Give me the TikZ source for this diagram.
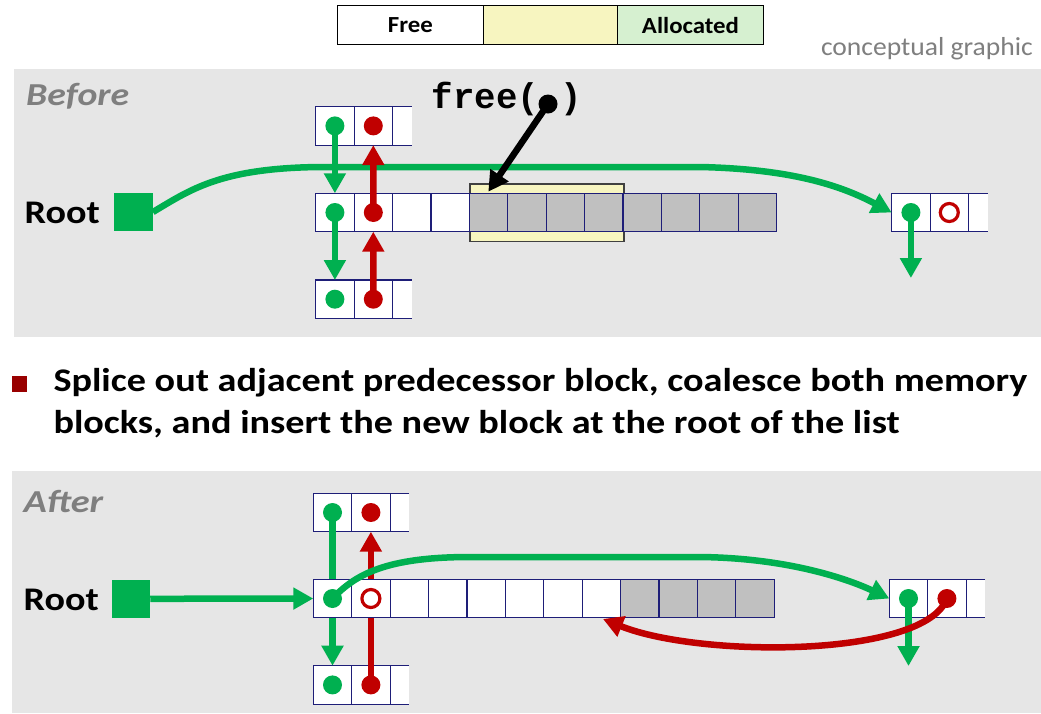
\documentclass[tikz,border=0pt]{standalone}
\usepackage{fontspec}
\setmainfont{Carlito}
\newfontfamily\monof{Liberation Mono}
\usetikzlibrary{arrows.meta}
\definecolor{panelbg}{RGB}{230,230,230}
\definecolor{dgreen}{RGB}{0,176,80}
\definecolor{dred}{RGB}{192,0,0}
\definecolor{bulletred}{RGB}{153,0,0}
\definecolor{cellgray}{RGB}{192,192,192}
\definecolor{cellblue}{RGB}{30,30,120}
\definecolor{legyellow}{RGB}{247,245,192}
\definecolor{leggreen}{RGB}{214,240,208}
\definecolor{txtgray}{RGB}{127,127,127}
\begin{document}
\begin{tikzpicture}[x=1pt,y=-1pt,
  cell/.style={draw=cellblue, line width=1.2pt, fill=white, minimum width=38.4pt, minimum height=38.4pt, inner sep=0pt, outer sep=0pt, anchor=north west},
  pcell/.style={fill=white, minimum width=19pt, minimum height=38.4pt, inner sep=0pt, outer sep=0pt, anchor=north west},
  cellline/.style={draw=cellblue, line width=1.2pt},
  gdot/.style={circle, fill=dgreen, minimum size=19pt, inner sep=0pt},
  rdot/.style={circle, fill=dred, minimum size=19pt, inner sep=0pt},
  kdot/.style={circle, fill=black, minimum size=19pt, inner sep=0pt},
  rring/.style={circle, draw=dred, line width=3.2pt, fill=white, minimum size=18pt, inner sep=0pt},
  tip/.style={-{Triangle[length=20pt,width=21pt]}},
  garrow/.style={draw=dgreen, line width=6.5pt, tip},
  rarrow/.style={draw=dred, line width=6.5pt, tip},
  karrow/.style={draw=black, line width=6.5pt, tip},
  rootsq/.style={fill=dgreen, minimum width=38.5pt, minimum height=38.5pt, inner sep=0pt},
  rootlbl/.style={font=\fontsize{33}{36}\selectfont\bfseries, anchor=base west, inner sep=0pt},
  panellbl/.style={font=\fontsize{32}{34}\selectfont\bfseries\itshape, text=txtgray, anchor=base west, inner sep=0pt},
  bullettxt/.style={font=\fontsize{33}{36}\selectfont\bfseries, anchor=base west, inner sep=0pt},
  legbox/.style={draw=black, line width=1.3pt, minimum height=39pt, inner sep=0pt, anchor=north west, font=\fontsize{23}{25}\selectfont\bfseries}
]
\useasboundingbox (0,0) rectangle (1041,713);
\fill[white] (0,0) rectangle (1041,713);

% ---------- legend ----------
\node[legbox, fill=white, minimum width=146pt] (legfree) at (336.7,5) {\scalebox{1.08}[1]{Free}};
\node[legbox, fill=legyellow, minimum width=134pt] (legyel) at (482.7,5) {};
\node[legbox, fill=leggreen, minimum width=146.3pt] (legalloc) at (616.7,5) {\scalebox{1.08}[1]{Allocated}};
\node[font=\fontsize{26}{28}\selectfont, text=txtgray, anchor=base east, inner sep=0pt] (concept) at (1033,55) {\scalebox{1.06}[1]{conceptual graphic}};

% ---------- BEFORE panel ----------
\fill[panelbg] (14,69) rectangle (1041,337);
\node[panellbl] (beforelbl) at (26,105.7) {\scalebox{1.18}[1]{Before}};
\node[rootlbl] (rootBtxt) at (24.5,223.3) {\scalebox{1.156}[1]{Root}};
\node[rootsq] (rootB) at (133.5,212) {};

% highlight
\node[draw=black!75, line width=1.3pt, fill=legyellow, minimum width=154pt, minimum height=57.7pt, inner sep=0pt, anchor=north west] (hl) at (469.3,183.3) {};

% top row
\node[cell] (bt0) at (315.7,106.7) {};
\node[cell] (bt1) at (354.1,106.7) {};
\node[pcell] (bt2) at (392.5,106.7) {};
\draw[cellline] (bt2.north east) -- (bt2.north west) -- (bt2.south west) -- (bt2.south east);
% middle row
\foreach \i in {0,...,11}{
  \ifnum\i>3 \def\cf{cellgray}\else\def\cf{white}\fi
  \node[cell, fill=\cf] (bm\i) at ({315.7+38.4*\i},193.3) {};
}
% bottom row
\node[cell] (bb0) at (315.7,280) {};
\node[cell] (bb1) at (354.1,280) {};
\node[pcell] (bb2) at (392.5,280) {};
\draw[cellline] (bb2.north east) -- (bb2.north west) -- (bb2.south west) -- (bb2.south east);
% right block
\node[cell] (br0) at (891.7,193.3) {};
\node[cell] (br1) at (930.1,193.3) {};
\node[pcell] (br2) at (968.5,193.3) {};
\draw[cellline] (br2.north east) -- (br2.north west) -- (br2.south west) -- (br2.south east);

% dots
\node[gdot] (btg) at (bt0.center) {};
\node[rdot] (btr) at (bt1.center) {};
\node[gdot] (bmg) at (bm0.center) {};
\node[rdot] (bmr) at (bm1.center) {};
\node[gdot] (bbg) at (bb0.center) {};
\node[rdot] (bbr) at (bb1.center) {};
\node[gdot] (brg) at (br0.center) {};
\node[rring] (brr) at (br1.center) {};
\coordinate (brdown) at (910.9,278);

% long green curve
\draw[garrow] (rootB.east) .. controls (190,190) and (220,168) .. (320,167) -- (700,167) .. controls (790,169) and (840,185) .. (br0.west);

% vertical arrows
\draw[garrow] (btg.center) -- (bm0.north);
\draw[rarrow] (bmr.center) -- (bt1.south);
\draw[garrow] (bmg.center) -- (bb0.north);
\draw[rarrow] (bbr.center) -- (bm1.south);
\draw[garrow] (brg.center) -- (brdown);

% free( )
\node[font=\monof\fontsize{35.7}{38}\selectfont\bfseries, anchor=base west, inner sep=0pt] (freetxt) at (431.7,108.3) {free(\phantom{x})};
\node[kdot] (freedot) at (548,104) {};
\coordinate (freetip) at (488.3,191.7);
\draw[karrow] (freedot.center) -- (freetip);

% ---------- bullet ----------
\fill[bulletred] (11.7,375.7) rectangle (27.3,391.7);
\node[bullettxt] (bl1) at (53.3,391.7) {\scalebox{1.158}[1]{Splice out adjacent predecessor block, coalesce both memory}};
\node[bullettxt] (bl2) at (53.3,433.3) {\scalebox{1.158}[1]{blocks, and insert the new block at the root of the list}};

% ---------- AFTER panel ----------
\fill[panelbg] (12,471) rectangle (1041,713);
\node[panellbl] (afterlbl) at (23.5,512.7) {\scalebox{1.2}[1]{After}};
\node[rootlbl] (rootAtxt) at (23.5,610) {\scalebox{1.156}[1]{Root}};
\node[rootsq] (rootA) at (130.8,598.8) {};

% top row
\node[cell] (at0) at (313.3,493.3) {};
\node[cell] (at1) at (351.7,493.3) {};
\node[pcell] (at2) at (390.1,493.3) {};
\draw[cellline] (at2.north east) -- (at2.north west) -- (at2.south west) -- (at2.south east);
% bottom row
\node[cell] (ab0) at (313.3,665.7) {};
\node[cell] (ab1) at (351.7,665.7) {};
\node[pcell] (ab2) at (390.1,665.7) {};
\draw[cellline] (ab2.north east) -- (ab2.north west) -- (ab2.south west) -- (ab2.south east);
\node[gdot] (atg) at (at0.center) {};
\node[rdot] (atr) at (at1.center) {};
\node[gdot] (abg) at (ab0.center) {};
\node[rdot] (abr) at (ab1.center) {};
% long verticals (behind middle row)
\draw[garrow] (atg.center) -- (ab0.north);
\draw[rarrow] (abr.center) -- (at1.south);
% middle row
\foreach \i in {0,...,11}{
  \ifnum\i>7 \def\cf{cellgray}\else\def\cf{white}\fi
  \node[cell, fill=\cf] (am\i) at ({313.3+38.4*\i},579.3) {};
}
\node[gdot] (amg) at (am0.center) {};
\node[rring] (amr) at (am1.center) {};
% right block
\node[cell] (ar0) at (889.3,579.3) {};
\node[cell] (ar1) at (927.7,579.3) {};
\node[pcell] (ar2) at (966.1,579.3) {};
\draw[cellline] (ar2.north east) -- (ar2.north west) -- (ar2.south west) -- (ar2.south east);
\node[gdot] (arg) at (ar0.center) {};
\node[rdot] (arr) at (ar1.center) {};
\coordinate (ardown) at (908.5,666);
\coordinate (redtip) at (603,619);

% root arrow
\draw[garrow] (rootA.east) -- (am0.west);
% green curve
\draw[garrow] (amg.center) .. controls (355,575) and (385,557) .. (470,557) -- (700,557) .. controls (790,558) and (850,580) .. (ar0.west);
% right green down
\draw[garrow] (arg.center) -- (ardown);
% red curve
\draw[rarrow] (arr.center) .. controls (925,658) and (700,658) .. (redtip);
\end{tikzpicture}
\end{document}
